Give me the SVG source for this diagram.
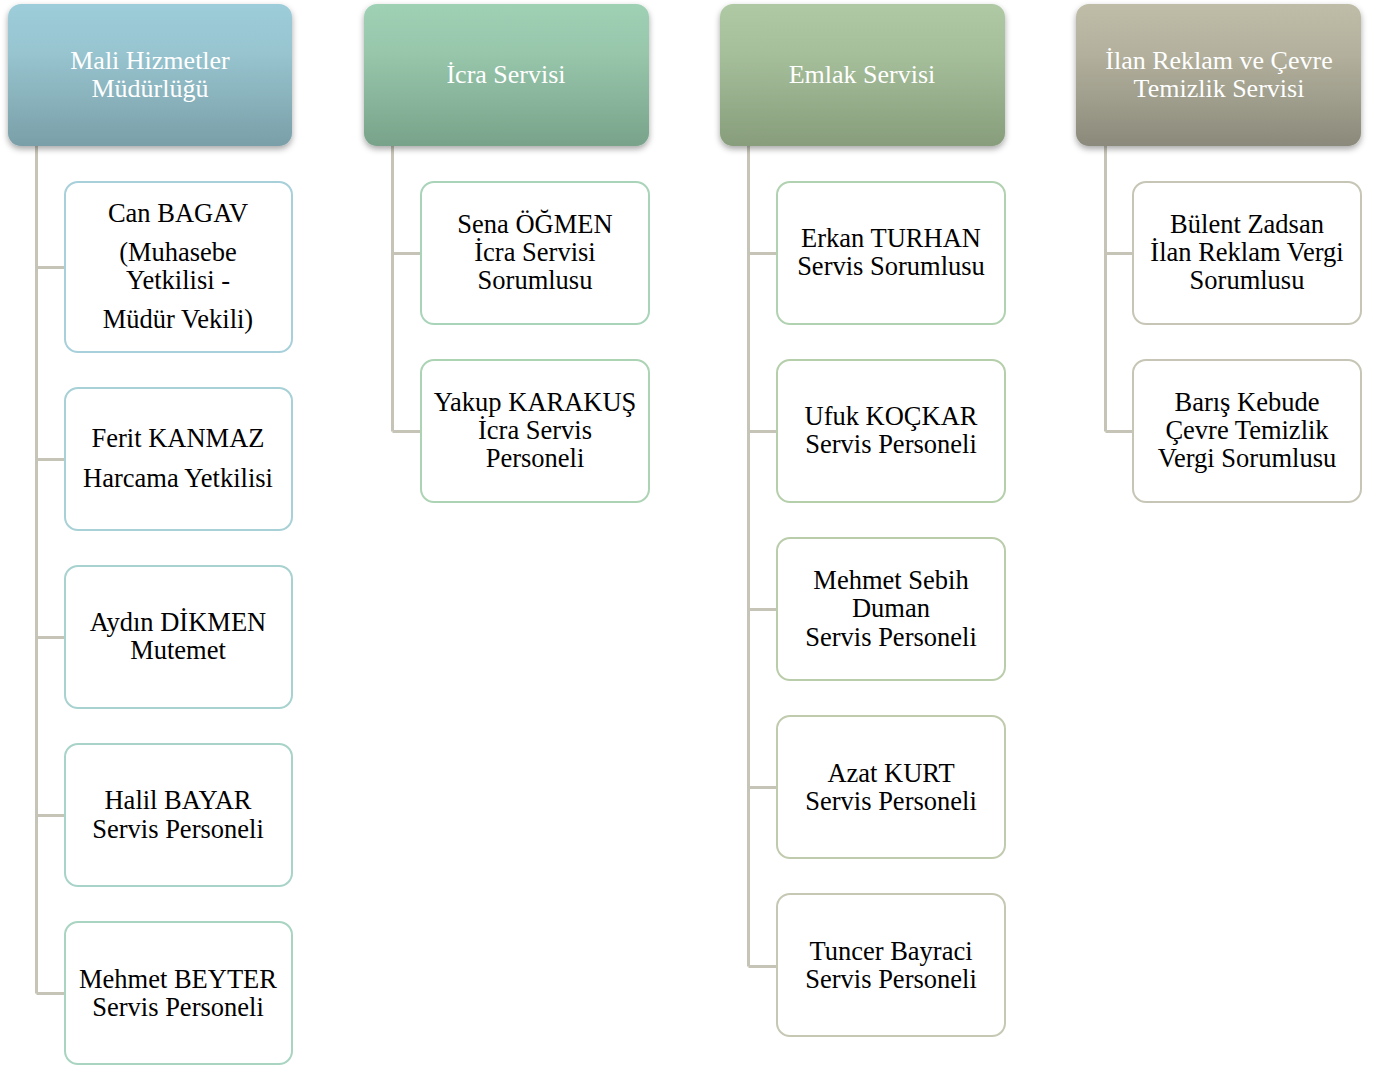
<svg xmlns="http://www.w3.org/2000/svg" width="1376" height="1068" viewBox="0 0 1376 1068">
<style>
.hd text{font-family:"Liberation Serif","Times New Roman",serif;font-size:26px;fill:#ffffff;text-anchor:middle}
.nd rect{fill:#ffffff;stroke-width:2}
.nd text{font-family:"Liberation Serif","Times New Roman",serif;font-size:26.5px;fill:#000000;text-anchor:middle}
.cn path{fill:none;stroke:#c6c4b6;stroke-width:3}
</style>
<defs>
<filter id="sh" x="-10%" y="-10%" width="120%" height="130%">
<feDropShadow dx="0" dy="3" stdDeviation="3" flood-color="#000" flood-opacity="0.35"/>
</filter>
<linearGradient id="g1" x1="0" y1="0" x2="0" y2="1"><stop offset="0" stop-color="#9dcdda"/><stop offset="0.35" stop-color="#97c4cf"/><stop offset="1" stop-color="#7a9fa8"/></linearGradient>
<linearGradient id="g2" x1="0" y1="0" x2="0" y2="1"><stop offset="0" stop-color="#9fd1b5"/><stop offset="0.35" stop-color="#97c6ab"/><stop offset="1" stop-color="#78a38a"/></linearGradient>
<linearGradient id="g3" x1="0" y1="0" x2="0" y2="1"><stop offset="0" stop-color="#afc9a4"/><stop offset="0.35" stop-color="#a6bf9b"/><stop offset="1" stop-color="#879d7b"/></linearGradient>
<linearGradient id="g4" x1="0" y1="0" x2="0" y2="1"><stop offset="0" stop-color="#bfbda8"/><stop offset="0.35" stop-color="#b3b19d"/><stop offset="1" stop-color="#8b897a"/></linearGradient>
</defs>
<g class="cn" id="connectors">
<path d="M36.5 146V993.5M36.5 267.5H65M36.5 459.5H65M36.5 637.5H65M36.5 815.5H65M36.5 993.5H65"/>
<path d="M392.5 146V431.5M392.5 253.5H421M392.5 431.5H421"/>
<path d="M748.5 146V966.5M748.5 253.5H777M748.5 431.5H777M748.5 609.5H777M748.5 787.5H777M748.5 966.5H777"/>
<path d="M1105.5 146V431.5M1105.5 253.5H1133M1105.5 431.5H1133"/>
</g>
<g class="hd" id="h1"><rect x="8" y="4" width="284" height="142" rx="13" fill="url(#g1)" filter="url(#sh)"/><text x="150" y="69">Mali Hizmetler</text><text x="150" y="97">Müdürlüğü</text></g>
<g class="hd" id="h2"><rect x="364" y="4" width="285" height="142" rx="13" fill="url(#g2)" filter="url(#sh)"/><text x="506" y="83">İcra Servisi</text></g>
<g class="hd" id="h3"><rect x="720" y="4" width="285" height="142" rx="13" fill="url(#g3)" filter="url(#sh)"/><text x="862" y="83">Emlak Servisi</text></g>
<g class="hd" id="h4"><rect x="1076" y="4" width="285" height="142" rx="13" fill="url(#g4)" filter="url(#sh)"/><text x="1219" y="69">İlan Reklam ve Çevre</text><text x="1219" y="97">Temizlik Servisi</text></g>

<g class="nd" id="n1"><rect x="65" y="182" width="227" height="170" rx="13" stroke="#a7d0da"/><text x="178" y="222">Can BAGAV</text><text x="178" y="261">(Muhasebe</text><text x="178" y="289">Yetkilisi -</text><text x="178" y="328">Müdür Vekili)</text></g>
<g class="nd" id="n2"><rect x="65" y="388" width="227" height="142" rx="13" stroke="#a7d1d6"/><text x="178" y="447">Ferit KANMAZ</text><text x="178" y="487">Harcama Yetkilisi</text></g>
<g class="nd" id="n3"><rect x="65" y="566" width="227" height="142" rx="13" stroke="#a7d2cf"/><text x="178" y="631">Aydın DİKMEN</text><text x="178" y="659">Mutemet</text></g>
<g class="nd" id="n4"><rect x="65" y="744" width="227" height="142" rx="13" stroke="#a8d3c8"/><text x="178" y="809">Halil BAYAR</text><text x="178" y="838">Servis Personeli</text></g>
<g class="nd" id="n5"><rect x="65" y="922" width="227" height="142" rx="13" stroke="#a8d4c1"/><text x="178" y="988">Mehmet BEYTER</text><text x="178" y="1016">Servis Personeli</text></g>

<g class="nd" id="n6"><rect x="421" y="182" width="228" height="142" rx="13" stroke="#a9d4ba"/><text x="535" y="233">Sena ÖĞMEN</text><text x="535" y="261">İcra Servisi</text><text x="535" y="289">Sorumlusu</text></g>
<g class="nd" id="n7"><rect x="421" y="360" width="228" height="142" rx="13" stroke="#acd4b4"/><text x="535" y="411">Yakup KARAKUŞ</text><text x="535" y="439">İcra Servis</text><text x="535" y="467">Personeli</text></g>

<g class="nd" id="n8"><rect x="777" y="182" width="228" height="142" rx="13" stroke="#b1d2b0"/><text x="891" y="247">Erkan TURHAN</text><text x="891" y="275">Servis Sorumlusu</text></g>
<g class="nd" id="n9"><rect x="777" y="360" width="228" height="142" rx="13" stroke="#b5cfab"/><text x="891" y="425">Ufuk KOÇKAR</text><text x="891" y="453">Servis Personeli</text></g>
<g class="nd" id="n10"><rect x="777" y="538" width="228" height="142" rx="13" stroke="#bacdab"/><text x="891" y="589">Mehmet Sebih</text><text x="891" y="617">Duman</text><text x="891" y="646">Servis Personeli</text></g>
<g class="nd" id="n11"><rect x="777" y="716" width="228" height="142" rx="13" stroke="#c0cbae"/><text x="891" y="782">Azat KURT</text><text x="891" y="810">Servis Personeli</text></g>
<g class="nd" id="n12"><rect x="777" y="894" width="228" height="142" rx="13" stroke="#c6c8b4"/><text x="891" y="960">Tuncer Bayraci</text><text x="891" y="988">Servis Personeli</text></g>

<g class="nd" id="n13"><rect x="1133" y="182" width="228" height="142" rx="13" stroke="#c7c6b6"/><text x="1247" y="233">Bülent Zadsan</text><text x="1247" y="261">İlan Reklam Vergi</text><text x="1247" y="289">Sorumlusu</text></g>
<g class="nd" id="n14"><rect x="1133" y="360" width="228" height="142" rx="13" stroke="#c7c6b6"/><text x="1247" y="411">Barış Kebude</text><text x="1247" y="439">Çevre Temizlik</text><text x="1247" y="467">Vergi Sorumlusu</text></g>
</svg>
